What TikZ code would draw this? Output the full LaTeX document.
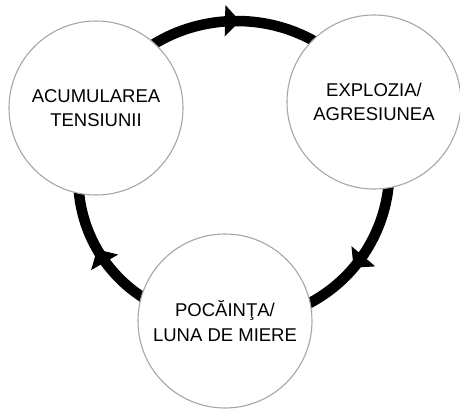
\documentclass[tikz,border=0pt]{standalone}
\usepackage{fontspec}
\setmainfont{Liberation Sans}
\usetikzlibrary{arrows.meta,decorations.markings,backgrounds}
\begin{document}
\begin{tikzpicture}[x=1pt,y=-1pt,
    phase/.style={circle,draw=gray!70,line width=1.1pt,fill=white,
      minimum size=174pt,inner sep=0pt,align=center,
      font=\fontsize{18.5}{24.5}\selectfont},
    cyclearc/.style={line width=10.5pt,looseness=1.16,postaction={decorate},
      decoration={markings,mark=at position #1 with
        {\arrow[line width=1pt]{Triangle[width=31pt,length=15pt]}}}}]
  \useasboundingbox (0,0) rectangle (460,408);
  \draw
    (96,108) node[phase] (tensiune){ACUMULAREA\\TENSIUNII}
    (374,102) node[phase] (explozie){EXPLOZIA/\\AGRESIUNEA}
    (225,321) node[phase] (pocainta){POCĂINŢA/\\LUNA DE MIERE};
  \begin{scope}[on background layer]
    \draw[cyclearc=0.52] (tensiune.center) to[bend left=62.5] (explozie.center);
    \draw[cyclearc=0.55] (explozie.center) to[bend left=59] (pocainta.center);
    \draw[cyclearc=0.51] (pocainta.center) to[bend left=58.5] (tensiune.center);
  \end{scope}
\end{tikzpicture}
\end{document}
